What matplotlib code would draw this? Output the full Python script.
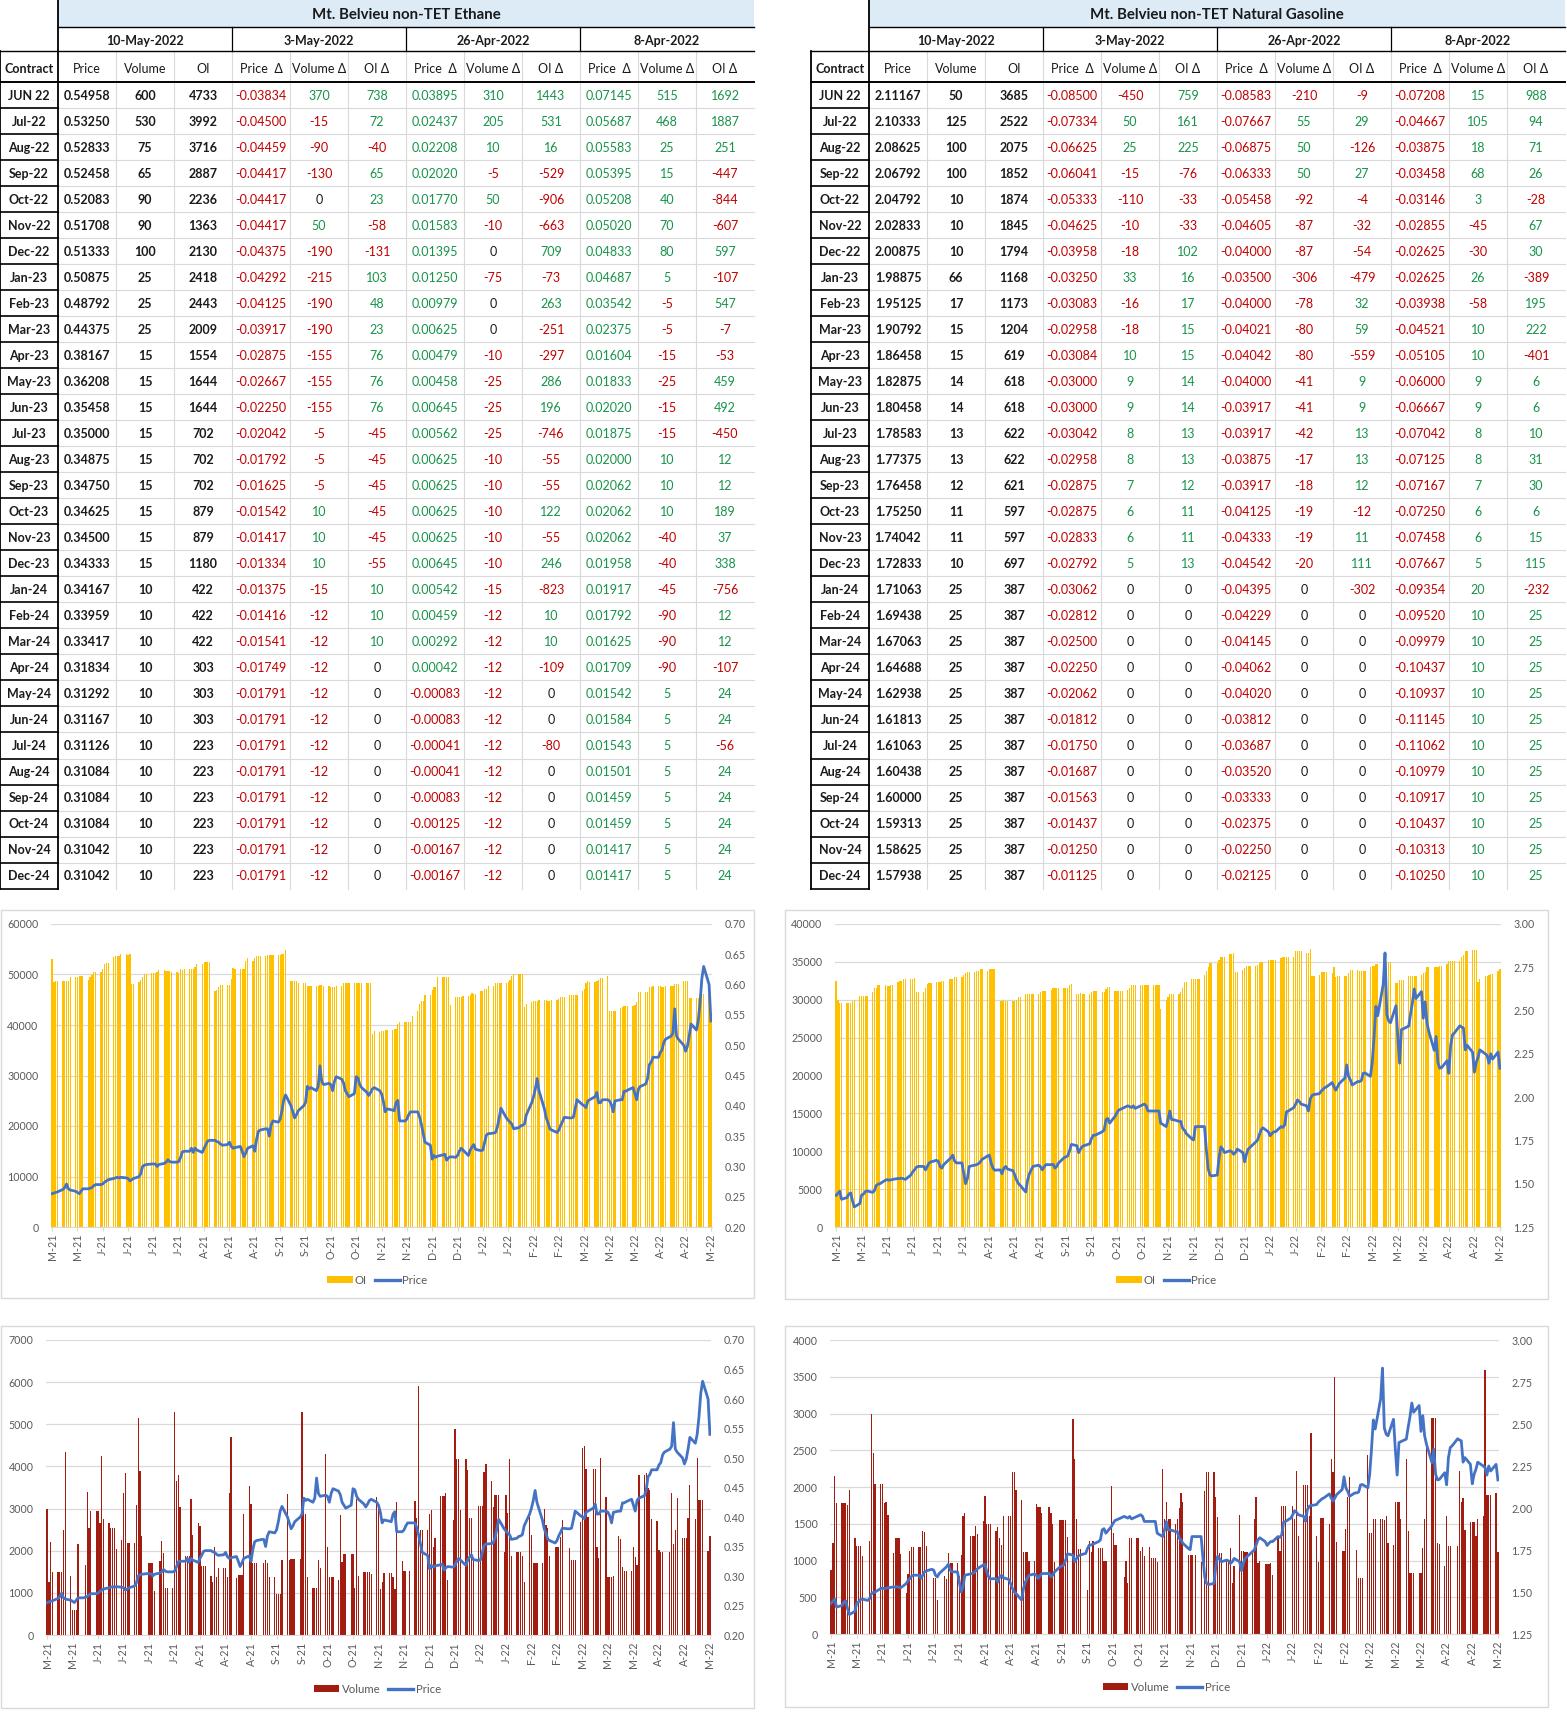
import numpy as np
import pandas as pd
import matplotlib
matplotlib.use('Agg')
import matplotlib.pyplot as plt
import matplotlib.dates as mdates
from matplotlib.patches import Rectangle, Patch
from matplotlib.lines import Line2D

plt.rcParams['font.family'] = ['Lato', 'DejaVu Sans']

W, H = 1567, 1717

# ---------------------------------------------------------------- tables
CONTRACTS = ['JUN 22', 'Jul-22', 'Aug-22', 'Sep-22', 'Oct-22', 'Nov-22', 'Dec-22',
             'Jan-23', 'Feb-23', 'Mar-23', 'Apr-23', 'May-23', 'Jun-23', 'Jul-23',
             'Aug-23', 'Sep-23', 'Oct-23', 'Nov-23', 'Dec-23', 'Jan-24', 'Feb-24',
             'Mar-24', 'Apr-24', 'May-24', 'Jun-24', 'Jul-24', 'Aug-24', 'Sep-24',
             'Oct-24', 'Nov-24', 'Dec-24']
DATE_HEADS = ['10-May-2022', '3-May-2022', '26-Apr-2022', '8-Apr-2022']
COL_HEADS = ['Price', 'Volume', 'OI'] + ['Price  Δ', 'Volume Δ', 'OI Δ'] * 3

ETH_PRICE_T = [0.54958, 0.53250, 0.52833, 0.52458, 0.52083, 0.51708, 0.51333, 0.50875,
               0.48792, 0.44375, 0.38167, 0.36208, 0.35458, 0.35000, 0.34875, 0.34750,
               0.34625, 0.34500, 0.34333, 0.34167, 0.33959, 0.33417, 0.31834, 0.31292,
               0.31167, 0.31126, 0.31084, 0.31084, 0.31084, 0.31042, 0.31042]
ETH_VOL_T = [600, 530, 75, 65, 90, 90, 100, 25, 25, 25, 15, 15, 15, 15, 15, 15, 15, 15,
             15, 10, 10, 10, 10, 10, 10, 10, 10, 10, 10, 10, 10]
ETH_OI_T = [4733, 3992, 3716, 2887, 2236, 1363, 2130, 2418, 2443, 2009, 1554, 1644, 1644,
            702, 702, 702, 879, 879, 1180, 422, 422, 422, 303, 303, 303, 223, 223, 223,
            223, 223, 223]
ETH_DP1 = [-0.03834, -0.04500, -0.04459, -0.04417, -0.04417, -0.04417, -0.04375, -0.04292,
           -0.04125, -0.03917, -0.02875, -0.02667, -0.02250, -0.02042, -0.01792, -0.01625,
           -0.01542, -0.01417, -0.01334, -0.01375, -0.01416, -0.01541, -0.01749, -0.01791,
           -0.01791, -0.01791, -0.01791, -0.01791, -0.01791, -0.01791, -0.01791]
ETH_DV1 = [370, -15, -90, -130, 0, 50, -190, -215, -190, -190, -155, -155, -155, -5, -5, -5,
           10, 10, 10, -15, -12, -12, -12, -12, -12, -12, -12, -12, -12, -12, -12]
ETH_DO1 = [738, 72, -40, 65, 23, -58, -131, 103, 48, 23, 76, 76, 76, -45, -45, -45, -45,
           -45, -55, 10, 10, 10, 0, 0, 0, 0, 0, 0, 0, 0, 0]
ETH_DP2 = [0.03895, 0.02437, 0.02208, 0.02020, 0.01770, 0.01583, 0.01395, 0.01250, 0.00979,
           0.00625, 0.00479, 0.00458, 0.00645, 0.00562, 0.00625, 0.00625, 0.00625, 0.00625,
           0.00645, 0.00542, 0.00459, 0.00292, 0.00042, -0.00083, -0.00083, -0.00041,
           -0.00041, -0.00083, -0.00125, -0.00167, -0.00167]
ETH_DV2 = [310, 205, 10, -5, 50, -10, 0, -75, 0, 0, -10, -25, -25, -25, -10, -10, -10, -10,
           -10, -15, -12, -12, -12, -12, -12, -12, -12, -12, -12, -12, -12]
ETH_DO2 = [1443, 531, 16, -529, -906, -663, 709, -73, 263, -251, -297, 286, 196, -746, -55,
           -55, 122, -55, 246, -823, 10, 10, -109, 0, 0, -80, 0, 0, 0, 0, 0]
ETH_DP3 = [0.07145, 0.05687, 0.05583, 0.05395, 0.05208, 0.05020, 0.04833, 0.04687, 0.03542,
           0.02375, 0.01604, 0.01833, 0.02020, 0.01875, 0.02000, 0.02062, 0.02062, 0.02062,
           0.01958, 0.01917, 0.01792, 0.01625, 0.01709, 0.01542, 0.01584, 0.01543, 0.01501,
           0.01459, 0.01459, 0.01417, 0.01417]
ETH_DV3 = [515, 468, 25, 15, 40, 70, 80, 5, -5, -5, -15, -25, -15, -15, 10, 10, 10, -40, -40,
           -45, -90, -90, -90, 5, 5, 5, 5, 5, 5, 5, 5]
ETH_DO3 = [1692, 1887, 251, -447, -844, -607, 597, -107, 547, -7, -53, 459, 492, -450, 12, 12,
           189, 37, 338, -756, 12, 12, -107, 24, 24, -56, 24, 24, 24, 24, 24]

GAS_PRICE_T = [2.11167, 2.10333, 2.08625, 2.06792, 2.04792, 2.02833, 2.00875, 1.98875,
               1.95125, 1.90792, 1.86458, 1.82875, 1.80458, 1.78583, 1.77375, 1.76458,
               1.75250, 1.74042, 1.72833, 1.71063, 1.69438, 1.67063, 1.64688, 1.62938,
               1.61813, 1.61063, 1.60438, 1.60000, 1.59313, 1.58625, 1.57938]
GAS_VOL_T = [50, 125, 100, 100, 10, 10, 10, 66, 17, 15, 15, 14, 14, 13, 13, 12, 11, 11, 10,
             25, 25, 25, 25, 25, 25, 25, 25, 25, 25, 25, 25]
GAS_OI_T = [3685, 2522, 2075, 1852, 1874, 1845, 1794, 1168, 1173, 1204, 619, 618, 618, 622,
            622, 621, 597, 597, 697, 387, 387, 387, 387, 387, 387, 387, 387, 387, 387, 387,
            387]
GAS_DP1 = [-0.08500, -0.07334, -0.06625, -0.06041, -0.05333, -0.04625, -0.03958, -0.03250,
           -0.03083, -0.02958, -0.03084, -0.03000, -0.03000, -0.03042, -0.02958, -0.02875,
           -0.02875, -0.02833, -0.02792, -0.03062, -0.02812, -0.02500, -0.02250, -0.02062,
           -0.01812, -0.01750, -0.01687, -0.01563, -0.01437, -0.01250, -0.01125]
GAS_DV1 = [-450, 50, 25, -15, -110, -10, -18, 33, -16, -18, 10, 9, 9, 8, 8, 7, 6, 6, 5,
           0, 0, 0, 0, 0, 0, 0, 0, 0, 0, 0, 0]
GAS_DO1 = [759, 161, 225, -76, -33, -33, 102, 16, 17, 15, 15, 14, 14, 13, 13, 12, 11, 11, 13,
           0, 0, 0, 0, 0, 0, 0, 0, 0, 0, 0, 0]
GAS_DP2 = [-0.08583, -0.07667, -0.06875, -0.06333, -0.05458, -0.04605, -0.04000, -0.03500,
           -0.04000, -0.04021, -0.04042, -0.04000, -0.03917, -0.03917, -0.03875, -0.03917,
           -0.04125, -0.04333, -0.04542, -0.04395, -0.04229, -0.04145, -0.04062, -0.04020,
           -0.03812, -0.03687, -0.03520, -0.03333, -0.02375, -0.02250, -0.02125]
GAS_DV2 = [-210, 55, 50, 50, -92, -87, -87, -306, -78, -80, -80, -41, -41, -42, -17, -18, -19,
           -19, -20, 0, 0, 0, 0, 0, 0, 0, 0, 0, 0, 0, 0]
GAS_DO2 = [-9, 29, -126, 27, -4, -32, -54, -479, 32, 59, -559, 9, 9, 13, 13, 12, -12, 11, 111,
           -302, 0, 0, 0, 0, 0, 0, 0, 0, 0, 0, 0]
GAS_DP3 = [-0.07208, -0.04667, -0.03875, -0.03458, -0.03146, -0.02855, -0.02625, -0.02625,
           -0.03938, -0.04521, -0.05105, -0.06000, -0.06667, -0.07042, -0.07125, -0.07167,
           -0.07250, -0.07458, -0.07667, -0.09354, -0.09520, -0.09979, -0.10437, -0.10937,
           -0.11145, -0.11062, -0.10979, -0.10917, -0.10437, -0.10313, -0.10250]
GAS_DV3 = [15, 105, 18, 68, 3, -45, -30, 26, -58, 10, 10, 9, 9, 8, 8, 7, 6, 6, 5, 20, 10, 10,
           10, 10, 10, 10, 10, 10, 10, 10, 10]
GAS_DO3 = [988, 94, 71, 26, -28, 67, 30, -389, 195, 222, -401, 6, 6, 10, 31, 30, 6, 15, 115,
           -232, 25, 25, 25, 25, 25, 25, 25, 25, 25, 25, 25]

# ---------------------------------------------------------------- daily history
# one line per week, first week starts Tue 11-May-2021, last ends Tue 10-May-2022
ETH_PRICE = [
    0.255, 0.256, 0.257, 0.258,
    0.262, 0.265, 0.271, 0.263, 0.261,
    0.259, 0.257, 0.255, 0.259, 0.263,
    0.263, 0.264, 0.265, 0.268, 0.270,
    0.270, 0.271, 0.274, 0.276, 0.278,
    0.280, 0.281, 0.282, 0.281, 0.282,
    0.281, 0.280, 0.276, 0.278, 0.280,
    0.283, 0.288, 0.300, 0.302, 0.303,
    0.304, 0.304, 0.304, 0.300, 0.303,
    0.305, 0.307, 0.311, 0.308, 0.307,
    0.307, 0.308, 0.315, 0.324, 0.325,
    0.325, 0.330, 0.323, 0.330, 0.327,
    0.323, 0.330, 0.336, 0.342, 0.343,
    0.343, 0.341, 0.340, 0.337, 0.335,
    0.336, 0.340, 0.333, 0.330, 0.331,
    0.333, 0.325, 0.316, 0.322, 0.330,
    0.334, 0.325, 0.345, 0.358, 0.360,
    0.362, 0.362, 0.350, 0.368, 0.375,
    0.373, 0.378, 0.392, 0.410, 0.418,
    0.400, 0.390, 0.380, 0.385, 0.392,
    0.400, 0.405, 0.432, 0.428, 0.430,
    0.425, 0.432, 0.466, 0.440, 0.435,
    0.437, 0.435, 0.425, 0.440, 0.448,
    0.444, 0.438, 0.425, 0.420, 0.415,
    0.420, 0.448, 0.446, 0.435, 0.430,
    0.422, 0.417, 0.422, 0.428, 0.430,
    0.425, 0.420, 0.408, 0.390, 0.395,
    0.393, 0.392, 0.405, 0.409, 0.375,
    0.375, 0.378, 0.385, 0.390, 0.390,
    0.390, 0.382, 0.370, 0.355, 0.340,
    0.335, 0.312, 0.318, 0.315, 0.317,
    0.319, 0.320, 0.310, 0.314, 0.316,
    0.315, 0.318, 0.325, 0.330, 0.327,
    0.318, 0.327, 0.332, 0.336, 0.328,
    0.326, 0.327, 0.340, 0.352, 0.354,
    0.355, 0.356, 0.365, 0.380, 0.396,
    0.380, 0.376, 0.373, 0.370, 0.362,
    0.364, 0.367, 0.368, 0.370, 0.385,
    0.405, 0.415, 0.428, 0.445, 0.425,
    0.395, 0.380, 0.372, 0.362, 0.360,
    0.356, 0.360, 0.368, 0.374, 0.381,
    0.380, 0.380, 0.381, 0.395, 0.410,
    0.402, 0.400, 0.397, 0.408, 0.410,
    0.415, 0.422, 0.405, 0.405, 0.410,
    0.410, 0.408, 0.402, 0.390, 0.408,
    0.410, 0.410, 0.424, 0.424, 0.426,
    0.430, 0.420, 0.410, 0.428, 0.432,
    0.436, 0.445, 0.468, 0.472, 0.480,
    0.480, 0.488, 0.492, 0.505, 0.510,
    0.515, 0.520, 0.560, 0.515, 0.510,
    0.500, 0.490, 0.498, 0.515, 0.535,
    0.525, 0.540, 0.570, 0.610, 0.630,
    0.600, 0.540,
]

ETH_OI = [
    53000, 48500, 48700, 48800,
    48800, 48800, 48800, 48800, 49500,
    49500, 49600, 49700, 49700, 49700,
    49000, 49500, 49900, 50400, 50400,
    50400, 51000, 52000, 52300, 52300,
    53500, 53600, 53600, 53700, 54000,
    54000, 53800, 54000, 48200, 48200,
    48500, 49000, 49500, 50000, 50000,
    50300, 50300, 50300, 50400, 50800,
    50800, 50700, 50700, 50700, 50500,
    50500, 50300, 51000, 50800, 51000,
    51000, 51000, 51000, 51500, 52000,
    52000, 52500, 52500, 52500, 52500,
    46700, 47000, 47500, 48000, 48000,
    48000, 48000, 49200, 51300, 51000,
    51000, 51000, 51000, 52700, 53200,
    52600, 53300, 53600, 53600, 53600,
    53600, 53800, 53800, 53800, 53800,
    53800, 53800, 54000, 54000, 54800,
    48700, 48700, 48700, 48700, 48400,
    48400, 48300, 47700, 47700, 47700,
    47700, 47700, 48000, 48000, 47800,
    47800, 47600, 47600, 47600, 47700,
    47700, 48300, 48400, 48400, 48400,
    48400, 48300, 48300, 48300, 48400,
    48400, 48400, 48400, 38300, 38800,
    38700, 38800, 38800, 39000, 39000,
    39000, 39200, 39200, 40200, 40500,
    40500, 40500, 40500, 40500, 41800,
    42700, 44200, 44800, 44800, 46000,
    46000, 47000, 47600, 47600, 49600,
    49600, 49600, 49500, 49500, 44000,
    45600, 45600, 45600, 45600, 45800,
    45800, 46000, 46300, 46200, 46200,
    46700, 46700, 47100, 47100, 47800,
    47800, 48300, 48300, 48300, 48300,
    48300, 48500, 49000, 49800, 50000,
    50000, 50000, 50000, 43500, 44200,
    44500, 44800, 44800, 44800, 44900,
    44900, 44900, 44800, 44800, 44900,
    44900, 45200, 45600, 45600, 45600,
    46000, 46000, 46000, 46000, 46000,
    46800, 47200, 48300, 48700, 48600,
    48600, 48700, 49000, 49300, 49300,
    49700, 42800, 42800, 42800, 42800,
    43300, 43500, 43700, 43700, 43700,
    43700, 43900, 44500, 46500, 46500,
    46500, 46500, 47500, 47500, 47800,
    47800, 47800, 47600, 47600, 47700,
    47700, 47800, 48200, 48200, 48200,
    48800, 48800, 48800, 45300, 45300,
    45300, 45300, 46100, 46100, 46100,
    46100, 41000,
]

ETH_VOL = [
    3000, 1250, 2200, 1500,
    1500, 1500, 1500, 2500, 4350,
    1400, 600, 600, 600, 2150,
    0, 1650, 3400, 2550, 2950,
    2950, 2950, 2650, 4250, 2750,
    2650, 2550, 2550, 2550, 2050,
    2250, 3380, 3850, 2180, 2180,
    2180, 3080, 5150, 3900, 2350,
    0, 1720, 1720, 1720, 1050,
    1760, 2230, 1950, 1120, 1120,
    1120, 5300, 3650, 3800, 3030,
    1870, 1870, 1870, 3230, 2380,
    2650, 2580, 1640, 1640, 1640,
    1400, 1250, 2080, 1380, 1580,
    1580, 1580, 1380, 3370, 4700,
    1350, 1420, 1420, 1420, 2880,
    3530, 3100, 1720, 1720, 1720,
    0, 1710, 1780, 1710, 1380,
    1380, 980, 980, 980, 1780,
    3340, 1780, 1800, 1800, 1800,
    1800, 5280, 3000, 2880, 1380,
    1120, 1120, 1120, 1780, 1600,
    4300, 2080, 1370, 1370, 1370,
    1300, 2850, 1730, 1930, 1930,
    1930, 1930, 1120, 3230, 1400,
    1500, 1500, 1500, 1500, 1450,
    3270, 3100, 1100, 1250, 1480,
    1480, 1480, 1380, 1080, 3150,
    1750, 1520, 1520, 0, 1520,
    3180, 2780, 5900, 2500, 2500,
    2500, 2860, 2960, 2080, 2300,
    3300, 3300, 3300, 3370, 1300,
    2720, 4900, 4180, 4180, 2960,
    4180, 3920, 2780, 2780, 1800,
    3060, 3060, 3060, 3860, 4060,
    3660, 3030, 3320, 3320, 3320,
    1980, 3320, 2900, 4180, 1880,
    1980, 1980, 1980, 1870, 1260,
    2800, 2380, 1720, 1720, 1720,
    1700, 3000, 2600, 2550, 1880,
    2100, 2100, 2100, 2330, 2720,
    0, 2060, 1780, 1780, 1780,
    2680, 4430, 4480, 3940, 2800,
    3940, 3940, 2100, 1830, 4200,
    3280, 1380, 1380, 1380, 1400,
    2350, 2280, 1620, 1510, 1510,
    1510, 2080, 1850, 1650, 3800,
    3800, 3850, 3500, 3450, 2750,
    2700, 2020, 1980, 1980, 0,
    1980, 3380, 2150, 2500, 3240,
    2300, 2300, 2300, 2780, 3560,
    2760, 4200, 3200, 3200, 3200,
    2000, 2350,
]

GAS_PRICE = [
    1.433, 1.445, 1.457, 1.410,
    1.420, 1.440, 1.447, 1.400, 1.366,
    1.385, 1.435, 1.440, 1.455, 1.458,
    1.450, 1.460, 1.490, 1.497, 1.500,
    1.520, 1.524, 1.520, 1.522, 1.525,
    1.530, 1.530, 1.532, 1.528, 1.525,
    1.550, 1.568, 1.580, 1.595, 1.600,
    1.600, 1.580, 1.600, 1.620, 1.626,
    1.635, 1.630, 1.600, 1.590, 1.610,
    1.640, 1.650, 1.665, 1.630, 1.620,
    1.620, 1.560, 1.500, 1.530, 1.600,
    1.607, 1.610, 1.615, 1.625, 1.640,
    1.660, 1.665, 1.620, 1.590, 1.578,
    1.580, 1.558, 1.590, 1.600, 1.585,
    1.575, 1.550, 1.520, 1.500, 1.490,
    1.452, 1.520, 1.558, 1.580, 1.600,
    1.607, 1.600, 1.580, 1.595, 1.610,
    1.610, 1.612, 1.590, 1.600, 1.620,
    1.650, 1.655, 1.660, 1.690, 1.727,
    1.720, 1.679, 1.700, 1.715, 1.720,
    1.730, 1.760, 1.780, 1.780, 1.785,
    1.800, 1.810, 1.870, 1.877, 1.850,
    1.890, 1.910, 1.926, 1.930, 1.935,
    1.950, 1.945, 1.940, 1.950, 1.935,
    1.950, 1.955, 1.960, 1.950, 1.920,
    1.920, 1.920, 1.920, 1.920, 1.850,
    1.830, 1.870, 1.920, 1.870, 1.870,
    1.860, 1.860, 1.820, 1.810, 1.790,
    1.760, 1.752, 1.830, 1.830, 1.830,
    1.830, 1.700, 1.588, 1.550, 1.545,
    1.550, 1.650, 1.713, 1.700, 1.680,
    1.690, 1.685, 1.670, 1.680, 1.700,
    1.680, 1.626, 1.670, 1.700, 1.710,
    1.740, 1.750, 1.780, 1.810, 1.823,
    1.800, 1.777, 1.790, 1.800, 1.800,
    1.830, 1.825, 1.840, 1.916, 1.920,
    1.940, 1.960, 1.984, 1.975, 1.960,
    1.950, 1.920, 1.990, 2.010, 2.015,
    2.020, 2.035, 2.045, 2.055, 2.060,
    2.084, 2.060, 2.040, 2.060, 2.080,
    2.110, 2.186, 2.120, 2.100, 2.070,
    2.090, 2.090, 2.095, 2.137, 2.140,
    2.120, 2.200, 2.350, 2.524, 2.470,
    2.650, 2.833, 2.476, 2.440, 2.430,
    2.528, 2.350, 2.196, 2.390, 2.395,
    2.410, 2.480, 2.543, 2.625, 2.570,
    2.610, 2.456, 2.550, 2.430, 2.380,
    2.270, 2.350, 2.200, 2.167, 2.170,
    2.210, 2.138, 2.300, 2.360, 2.370,
    2.412, 2.405, 2.400, 2.273, 2.300,
    2.260, 2.144, 2.200, 2.230, 2.273,
    2.250, 2.240, 2.196, 2.250, 2.220,
    2.260, 2.167,
]

GAS_OI = [
    32500, 30000, 29600, 29600,
    29600, 29600, 29600, 29800, 30000,
    30500, 30500, 30500, 30500, 30500,
    31000, 31500, 31500, 31900, 31900,
    31900, 31800, 31800, 32000, 32000,
    32300, 32500, 32500, 32700, 32700,
    32800, 32800, 32900, 31000, 31000,
    31000, 31600, 32100, 32200, 32200,
    32300, 32300, 32300, 32500, 32500,
    32700, 32800, 32800, 33000, 33000,
    33000, 33300, 33500, 33600, 33600,
    33600, 33800, 33800, 34000, 34000,
    33800, 34100, 34100, 34100, 34100,
    29800, 29800, 30000, 29800, 29800,
    29800, 29800, 30000, 30300, 30300,
    30700, 30700, 30700, 30700, 30700,
    30700, 31000, 31200, 31200, 31200,
    31300, 31500, 31500, 31600, 31600,
    31600, 31600, 31600, 32000, 32100,
    30700, 30800, 30900, 30800, 30800,
    30800, 31000, 31100, 31200, 31200,
    31000, 31000, 31400, 31700, 31700,
    31100, 31100, 31100, 31100, 31100,
    31300, 31500, 31900, 31900, 31900,
    31900, 31900, 31900, 31900, 31900,
    31900, 31900, 31900, 31900, 28800,
    30000, 30400, 30700, 30700, 30700,
    30700, 31000, 31600, 32400, 32400,
    32800, 32800, 32800, 32800, 32800,
    33300, 33800, 34300, 34800, 34800,
    34800, 35200, 35600, 35600, 35600,
    36000, 36000, 36200, 33700, 33700,
    33900, 34200, 34400, 34400, 34400,
    34400, 34600, 34800, 35000, 35000,
    35200, 35200, 35200, 35300, 35300,
    35500, 35700, 35600, 35600, 35600,
    35700, 36500, 36500, 36500, 36500,
    36200, 36200, 36700, 33200, 33200,
    33300, 33600, 33600, 33600, 33600,
    33500, 34300, 33000, 33200, 33200,
    33100, 33100, 33500, 33900, 33900,
    33900, 33800, 33800, 33800, 33800,
    34300, 34400, 34400, 34700, 34700,
    34700, 34700, 35000, 35000, 35000,
    32200, 32200, 32600, 32600, 32600,
    33100, 33200, 33200, 33200, 33200,
    33300, 33500, 33600, 34300, 34300,
    34300, 34300, 34300, 34400, 34400,
    34700, 35100, 35100, 35100, 35100,
    35100, 35600, 35900, 36400, 36400,
    36600, 36600, 36600, 32400, 32700,
    33100, 33200, 33300, 33400, 33400,
    33800, 34000,
]

GAS_VOL = [
    870, 1240, 2150, 1780,
    1780, 1780, 1780, 1750, 1960,
    1310, 1200, 1200, 1200, 1060,
    0, 1270, 3000, 2460, 2040,
    2040, 2040, 1780, 1800, 1620,
    1100, 1310, 1310, 1310, 1090,
    560, 820, 1130, 1180, 1180,
    1180, 1180, 1400, 1390, 1200,
    0, 760, 760, 460, 0,
    790, 750, 1100, 960, 960,
    960, 790, 1080, 1600, 1640,
    1330, 1330, 1330, 1470, 1360,
    1540, 1880, 1500, 1500, 1500,
    1400, 1450, 1310, 1210, 1610,
    1610, 1610, 2200, 2200, 1960,
    1820, 1120, 1120, 1120, 1000,
    990, 1770, 1730, 1730, 1650,
    0, 1730, 1650, 1500, 980,
    1550, 1550, 1550, 1550, 1320,
    2920, 2380, 1570, 1160, 1160,
    0, 600, 1260, 1120, 1260,
    1170, 1170, 1170, 1000, 990,
    2020, 1370, 1210, 1210, 0,
    780, 990, 700, 1310, 1310,
    1310, 1310, 1130, 1180, 1060,
    1190, 1040, 1040, 1040, 980,
    2240, 1570, 1790, 1570, 1570,
    1500, 1570, 1720, 1920, 1800,
    1080, 1080, 1080, 0, 1080,
    980, 0, 1950, 2200, 2200,
    2200, 1870, 1590, 1100, 1100,
    990, 1010, 1170, 700, 920,
    1620, 1130, 1130, 1120, 1120,
    1120, 1570, 1870, 960, 1000,
    950, 950, 950, 970, 800,
    1330, 1130, 1740, 1740, 1740,
    0, 1740, 1560, 2220, 1330,
    2030, 2030, 2030, 1600, 2740,
    1340, 980, 1580, 1580, 1580,
    1490, 2380, 2200, 3500, 1250,
    1130, 1130, 1430, 1870, 2130,
    0, 1140, 760, 760, 760,
    2440, 1380, 1380, 1570, 1570,
    1570, 1570, 1550, 1610, 1240,
    1210, 1800, 1800, 1800, 1560,
    2380, 1400, 830, 830, 830,
    830, 830, 1170, 1570, 2590,
    2940, 2940, 2940, 1240, 1230,
    930, 1610, 1200, 1200, 0,
    1200, 2220, 1800, 1850, 1410,
    1520, 1520, 1520, 1340, 1570,
    1610, 3590, 1890, 1890, 1890,
    1920, 1120,
]

DATES = pd.bdate_range('2021-05-11', '2022-05-10')
TICK_DATES = pd.date_range('2021-05-11', '2022-05-10', freq='14D')

GREEN = '#17934a'
RED = '#c00000'
GRAY_TXT = '#595959'
GRID = '#d9d9d9'
BLUE = '#4472c4'
GOLD = '#ffc000'
BRICK = '#a21d10'
FS = 9.0


def fig_rect(l, t, r, b):
    return [l / W, 1 - b / H, (r - l) / W, (b - t) / H]


def fmt(v, is_price):
    return f'{v:.5f}' if is_price else str(v)


def draw_table(bg, x0, title, cols):
    cw = 58.0
    right = x0 + cw * 13
    y_title, y_date, y_head = 27.0, 51.5, 82.0
    rh = 26.02
    n = len(CONTRACTS)
    bottom = y_head + rh * n

    bg.add_patch(Rectangle((x0 + cw, 0), cw * 12, y_title, facecolor='#ddebf7',
                           edgecolor='none', zorder=1))
    bg.text(x0 + cw * 7, 15, title, ha='center', va='center', fontsize=10.8,
            fontweight='bold', color='#1a1a1a', zorder=3)

    # light grid of the data block
    for j in range(1, 12):
        xx = x0 + cw + cw * j
        bg.plot([xx, xx], [y_date, bottom], color=GRID, lw=0.8, zorder=2)
    for i in range(1, n):
        yy = y_head + rh * i
        bg.plot([x0 + cw, right], [yy, yy], color=GRID, lw=0.8, zorder=2)

    # black frame lines
    bg.plot([x0 + cw, right], [y_title, y_title], color='black', lw=1.0, zorder=3)
    bg.plot([x0, right], [y_date, y_date], color='black', lw=1.0, zorder=3)
    bg.plot([x0, right], [y_head, y_head], color='black', lw=1.4, zorder=3)
    bg.plot([x0 + cw, x0 + cw], [0, bottom], color='black', lw=1.3, zorder=3)
    bg.plot([x0, x0], [y_date, bottom], color='black', lw=1.3, zorder=3)
    for i in range(1, n + 1):
        yy = y_head + rh * i
        bg.plot([x0, x0 + cw], [yy, yy], color='black', lw=1.2, zorder=3)

    for g, lab in enumerate(DATE_HEADS):
        xg = x0 + cw + 3 * cw * g
        if g > 0:
            bg.plot([xg, xg], [y_title, y_date], color='black', lw=0.9, zorder=3)
        bg.text(xg + 1.5 * cw, 41, lab, ha='center', va='center', fontsize=FS,
                fontweight='bold', color='#1a1a1a', zorder=3)

    bg.text(x0 + cw / 2, 69, 'Contract', ha='center', va='center', fontsize=FS,
            fontweight='bold', color='#1a1a1a', zorder=3)
    for j, lab in enumerate(COL_HEADS):
        bg.text(x0 + cw * (j + 1.5), 69, lab, ha='center', va='center', fontsize=FS,
                color='#1a1a1a', zorder=3)

    for i, c in enumerate(CONTRACTS):
        yc = y_head + rh * (i + 0.52)
        bg.text(x0 + cw / 2, yc, c, ha='center', va='center', fontsize=FS,
                fontweight='bold', color='#1a1a1a', zorder=3)
        for j, col in enumerate(cols):
            v = col[i]
            is_price = (j % 3 == 0)
            if j < 3:
                color, weight = '#1a1a1a', 'bold'
            else:
                color = GREEN if v > 0 else (RED if v < 0 else '#1a1a1a')
                weight = 'normal'
            bg.text(x0 + cw * (j + 1.5), yc, fmt(v, is_price), ha='center', va='center',
                    fontsize=FS, fontweight=weight, color=color, zorder=3)


def draw_chart(fig, bg, box, plot, bars, bar_color, bar_name, price,
               left_max, left_step, right_lo, right_hi, right_step, legend_y):
    bl, bt, br, bb = box
    bg.add_patch(Rectangle((bl, bt), br - bl, bb - bt, facecolor='white',
                           edgecolor=GRID, lw=1.0, zorder=1))
    ax = fig.add_axes(fig_rect(*plot))
    ax.set_facecolor('none')
    x = mdates.date2num(DATES)
    ax.bar(x, bars, width=0.68, color=bar_color, linewidth=0, zorder=2)
    ax.set_xlim(x[0] - 0.6, x[-1] + 0.6)
    ax.set_ylim(0, left_max)
    ax.set_yticks(np.arange(0, left_max + 1, left_step))
    ax.yaxis.grid(True, color=GRID, lw=0.9)
    ax.set_axisbelow(True)
    for s in ['top', 'right', 'left']:
        ax.spines[s].set_visible(False)
    ax.spines['bottom'].set_color(GRID)
    ax.tick_params(axis='y', length=0, labelsize=7.7, labelcolor=GRAY_TXT, pad=9)
    ax.set_xticks(mdates.date2num(TICK_DATES))
    ax.set_xticklabels([d.strftime('%b')[0] + '-' + d.strftime('%y') for d in TICK_DATES],
                       rotation=90, fontsize=7.7, color=GRAY_TXT)
    ax.tick_params(axis='x', length=3, color=GRID, pad=2)

    ax2 = ax.twinx()
    ax2.plot(x, price, color=BLUE, lw=2.0, solid_joinstyle='round', zorder=3)
    ax2.set_ylim(right_lo, right_hi)
    ax2.set_yticks(np.arange(right_lo, right_hi + 1e-9, right_step))
    ax2.yaxis.set_major_formatter(matplotlib.ticker.FormatStrFormatter('%.2f'))
    for s in ax2.spines.values():
        s.set_visible(False)
    ax2.tick_params(axis='y', length=0, labelsize=7.7, labelcolor=GRAY_TXT, pad=9)

    handles = [Patch(facecolor=bar_color, edgecolor='none'),
               Line2D([], [], color=BLUE, lw=2.4)]
    cx = (bl + br) / 2 / W
    cy = 1 - legend_y / H
    fig.legend(handles, [bar_name, 'Price'], loc='center', bbox_to_anchor=(cx, cy),
               ncol=2, frameon=False, fontsize=8.2, labelcolor=GRAY_TXT,
               handlelength=2.2, handleheight=0.55, handletextpad=0.2, columnspacing=0.7)


for arr in [ETH_PRICE, ETH_OI, ETH_VOL, GAS_PRICE, GAS_OI, GAS_VOL]:
    assert len(arr) == len(DATES), (len(arr), len(DATES))

fig = plt.figure(figsize=(W / 100, H / 100), dpi=100)
bg = fig.add_axes([0, 0, 1, 1])
bg.set_xlim(0, W)
bg.set_ylim(H, 0)
bg.axis('off')

draw_table(bg, 0, 'Mt. Belvieu non-TET Ethane',
           [ETH_PRICE_T, ETH_VOL_T, ETH_OI_T, ETH_DP1, ETH_DV1, ETH_DO1,
            ETH_DP2, ETH_DV2, ETH_DO2, ETH_DP3, ETH_DV3, ETH_DO3])
draw_table(bg, 811, 'Mt. Belvieu non-TET Natural Gasoline',
           [GAS_PRICE_T, GAS_VOL_T, GAS_OI_T, GAS_DP1, GAS_DV1, GAS_DO1,
            GAS_DP2, GAS_DV2, GAS_DO2, GAS_DP3, GAS_DV3, GAS_DO3])

draw_chart(fig, bg, (1, 910, 754, 1298), (51, 924, 712, 1227), ETH_OI, GOLD, 'OI',
           ETH_PRICE, 60000, 10000, 0.20, 0.70, 0.05, 1280)
draw_chart(fig, bg, (785, 910, 1548, 1299), (835, 924, 1501, 1227), GAS_OI, GOLD, 'OI',
           GAS_PRICE, 40000, 5000, 1.25, 3.00, 0.25, 1280)
draw_chart(fig, bg, (1, 1326, 754, 1708), (46, 1340, 711, 1635), ETH_VOL, BRICK, 'Volume',
           ETH_PRICE, 7000, 1000, 0.20, 0.70, 0.05, 1689)
draw_chart(fig, bg, (785, 1326, 1548, 1707), (830, 1340, 1499, 1634), GAS_VOL, BRICK, 'Volume',
           GAS_PRICE, 4000, 500, 1.25, 3.00, 0.25, 1687)

fig.savefig('out.png', dpi=100)
